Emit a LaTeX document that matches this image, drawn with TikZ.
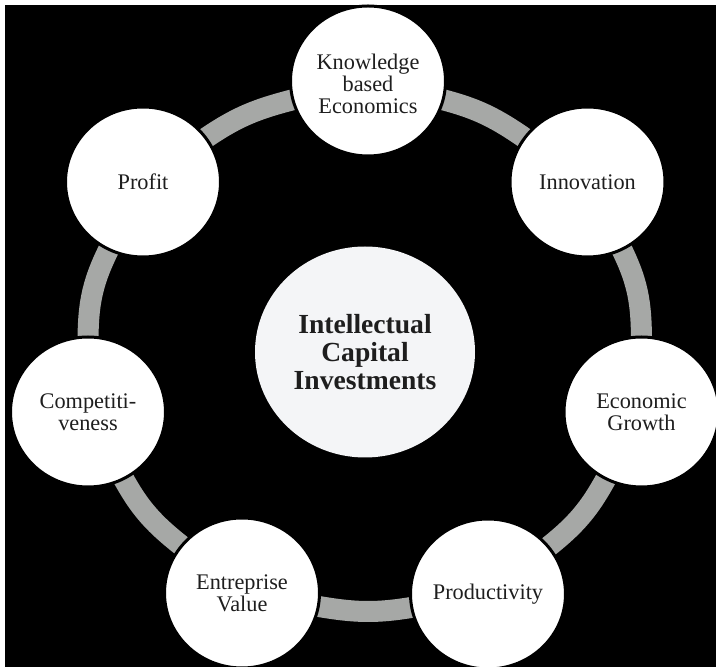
\documentclass[tikz,border=0pt]{standalone}
\usepackage{fontspec}
\setmainfont{Liberation Serif}
\usetikzlibrary{shapes.geometric,backgrounds}
\definecolor{bandgray}{RGB}{166,168,166}
\definecolor{hubfill}{RGB}{244,245,247}
\definecolor{txtcol}{RGB}{30,30,30}
\begin{document}
\begin{tikzpicture}[x=1pt,y=1pt,
  outer/.style={ellipse, draw=black, line width=3pt, fill=white,
    minimum width=155pt, minimum height=150pt, inner sep=0pt},
  hub/.style={ellipse, fill=hubfill, minimum width=220pt, minimum height=211pt, inner sep=0pt},
  lbl/.style={font=\fontsize{22.3}{21.8}\selectfont, text=txtcol, align=center, inner sep=0pt},
  hublbl/.style={font=\fontsize{27.6}{28}\selectfont\bfseries, text=txtcol, align=center, inner sep=0pt},
  band/.style={draw=bandgray, line width=21pt, shorten <=-8pt, shorten >=-8pt}]
\useasboundingbox (0,0) rectangle (716,667);

\node[hub, label={[hublbl]center:Intellectual\\Capital\\Investments}] (hub) at (365,315) {};

\node[outer, label={[lbl,yshift=-3pt]center:Knowledge\\based\\Economics}] (K) at (368,586) {};
\node[outer, label={[lbl]center:Innovation}] (I) at (587.5,485) {};
\node[outer, label={[lbl]center:Economic\\Growth}] (E) at (641.5,255) {};
\node[outer, label={[lbl]center:Productivity}] (P) at (488,73) {};
\node[outer, label={[lbl]center:Entreprise\\Value}] (V) at (242,74) {};
\node[outer, label={[lbl]center:Competiti-\\veness}] (C) at (88,255) {};
\node[outer, label={[lbl]center:Profit}] (Pr) at (143,485) {};

\begin{scope}[on background layer]
  \fill[white] (0,0) rectangle (716,667);
  \fill[black] (5,0) rectangle (716,662);
  \draw[band] (K) to[out=-14,in=145] (I);
  \draw[band] (I) to[out=-63,in=90] (E);
  \draw[band] (E) to[out=-118,in=38] (P);
  \draw[band] (P) to[out=190,in=-10] (V);
  \draw[band] (V) to[out=142,in=-62] (C);
  \draw[band] (C) to[out=90,in=243] (Pr);
  \draw[band] (Pr) to[out=35,in=194] (K);
\end{scope}
\end{tikzpicture}
\end{document}
